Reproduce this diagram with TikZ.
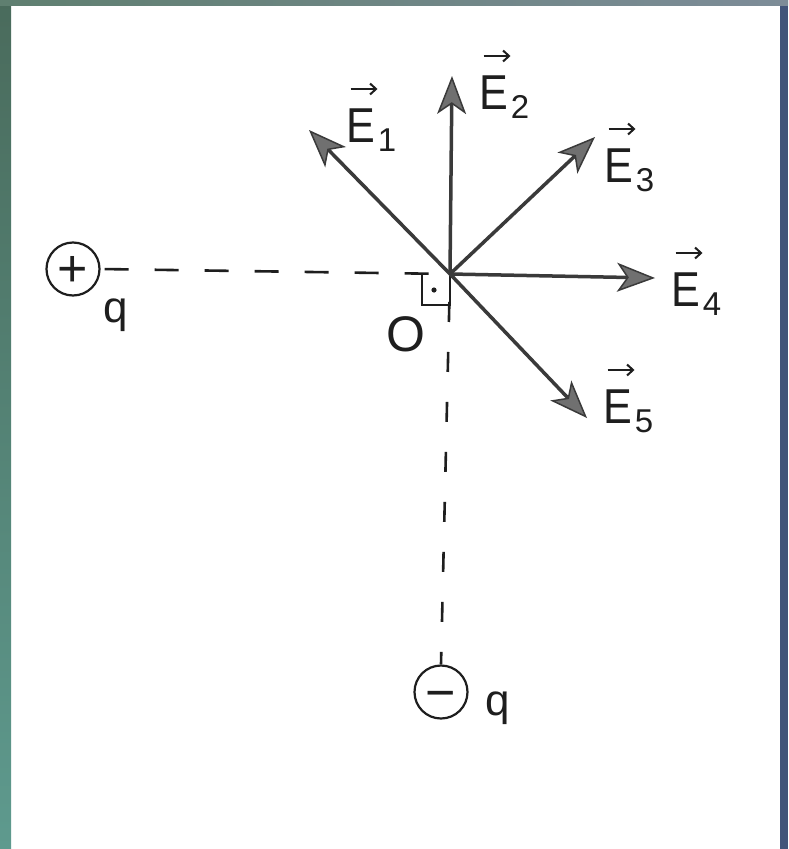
\documentclass[tikz,border=0pt]{standalone}
\usepackage{fontspec}
\newfontfamily\lblfont{Liberation Sans}
\newfontfamily\efont[FakeStretch=0.88]{Liberation Sans}
\usetikzlibrary{arrows.meta,calc}
\definecolor{ink}{HTML}{1E1E1E}
\definecolor{shaft}{HTML}{3A3A3A}
\definecolor{headfill}{HTML}{707070}
\definecolor{leftTop}{HTML}{4A6B5C}
\definecolor{leftMid}{HTML}{80B6A6}
\definecolor{leftBot}{HTML}{5E9A8E}
\definecolor{rightStrip}{HTML}{42557A}
\definecolor{topLeft}{HTML}{5F7F70}
\definecolor{topRight}{HTML}{7D8C98}
\newcommand{\subdig}[1]{\kern2.5pt\raisebox{-9.5pt}{\lblfont\fontsize{33}{36}\selectfont #1}}
\begin{document}
\begin{tikzpicture}[x=1pt,y=-1pt,
  field/.style={line width=3.5pt, draw=shaft,
    -{Stealth[length=38pt,width=29pt,inset=10pt,line width=1.5pt,fill=headfill]}},
  vecarr/.style={line width=2pt, draw=ink,
    -{Straight Barb[length=6pt,width=11pt,line width=2pt]}},
  dashline/.style={line width=2.6pt, draw=ink},
  charge/.style={circle, draw=ink, line width=2.2pt, minimum size=53pt, inner sep=0pt},
  sign/.style={inner sep=0pt, text=ink, font=\lblfont\fontsize{52}{56}\selectfont},
  elabel/.style={anchor=base west, inner sep=0pt, text=ink, font=\efont\fontsize{49}{55}\selectfont},
  plainlabel/.style={anchor=base west, inner sep=0pt, text=ink, font=\lblfont\fontsize{44}{50}\selectfont},
  olabel/.style={anchor=base west, inner sep=0pt, text=ink, font=\lblfont\fontsize{50}{56}\selectfont}
]
% background
\useasboundingbox (0,0) rectangle (788,849);
\fill[white] (0,0) rectangle (788,849);
\shade[top color=leftTop, middle color=leftMid, bottom color=leftBot] (0,0) rectangle (11,849);
\fill[rightStrip] (780,0) rectangle (788,849);
\shade[left color=topLeft, right color=topRight] (0,0) rectangle (788,5);

% key points
\coordinate (O) at (450,274);
\coordinate (t1) at (309,130);
\coordinate (t2) at (452,76);
\coordinate (t3) at (595,137);
\coordinate (t4) at (655,278);
\coordinate (t5) at (587,418);

% charges
\node[charge] (qp) at (73,269) {};
\node[sign, yshift=-2.5pt] (qpsign) at (qp.center) {+};
\node[charge] (qm) at (441,692) {};
\node[sign, yshift=-9pt] (qmsign) at (qm.center) {−};
\node[plainlabel] (qpl) at (103,322) {q};
\node[plainlabel] (qml) at (485,715) {q};

% dashed lines
\draw[dashline, dash pattern=on 24pt off 26pt, dash phase=46pt] (qp.east) -- (O);
\draw[dashline, dash pattern=on 20pt off 30pt, dash phase=22pt] (O) -- (qm.north);

% right angle mark
\draw[line width=2pt, draw=ink] (422,274) -- (422,305) -- (450,305) -- (450,274);
\fill[ink] (434,290) circle (2.6pt);

% field vectors
\draw[field] (O) -- (t1);
\draw[field] (O) -- (t2);
\draw[field] (O) -- (t3);
\draw[field] (O) -- (t4);
\draw[field] (O) -- (t5);

% labels
\node[olabel] (Ol) at (386,351) {O};
\node[elabel] (e1) at (346.5,142) {E\subdig{1}};
\node[elabel] (e2) at (479.5,109) {E\subdig{2}};
\node[elabel] (e3) at (604.5,182) {E\subdig{3}};
\node[elabel] (e4) at (671.5,306) {E\subdig{4}};
\node[elabel] (e5) at (603.5,423) {E\subdig{5}};
\foreach \n in {e1,e2,e3,e4,e5}{
  \draw[vecarr] ($(\n.base west)+(4,-53)$) -- ++(27,0);
}
\end{tikzpicture}
\end{document}
